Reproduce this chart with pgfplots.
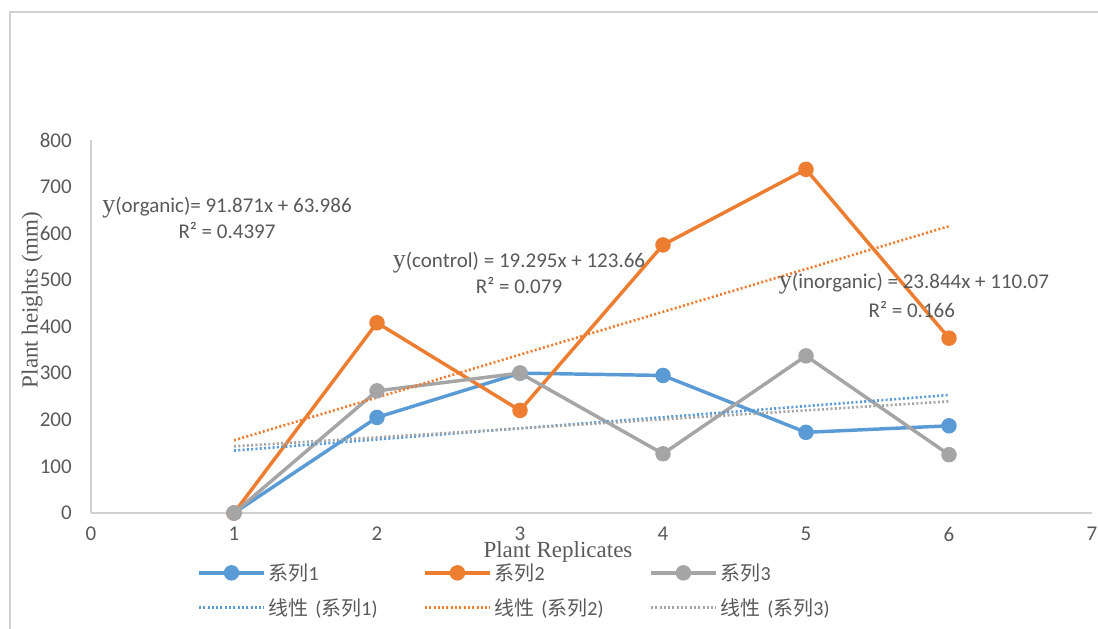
\documentclass[border=0pt]{standalone}
\usepackage{pgfplots}
\pgfplotsset{compat=1.18}
\usepackage{fontspec}
\setmainfont{Carlito}
\newfontfamily\serif{Liberation Serif}
\newfontfamily\cjk{Noto Sans CJK SC}
\definecolor{s1}{HTML}{5B9BD5}
\definecolor{s2}{HTML}{ED7D31}
\definecolor{s3}{HTML}{A5A5A5}
\definecolor{txt}{HTML}{595959}
\definecolor{axc}{HTML}{D0D0D0}
\newlength\px
\setlength\px{0.75pt}
\newcommand\yy{{\serif\fontsize{19.5}{20}\selectfont y}}
\begin{document}
\begin{tikzpicture}
\begin{axis}[
    at={(0,0)}, anchor=south west,
    scale only axis, width=1001\px, height=373\px,
    xmin=0, xmax=7, ymin=0, ymax=800,
    xtick={0,...,7}, ytick={0,100,...,800},
    axis x line*=bottom, axis y line*=left,
    axis line style={-, draw=axc, line width=1.3\px},
    major tick length=0pt,
    tick label style={txt, font=\fontsize{15.75}{19}\selectfont, inner sep=0pt},
    xticklabel style={yshift=-14\px},
    yticklabel style={xshift=-19\px},
    /pgf/number format/assume math mode=true,
    clip=false,
    legend columns=3,
    legend cell align=left,
    legend style={draw=none, fill=none, inner sep=0pt,
        at={(rel axis cs:0.1059,-0.132)}, anchor=north west,
        font=\fontsize{15}{18}\selectfont, text=txt,
        row sep=14\px,
        nodes={text width=148\px, inner xsep=3\px, inner ysep=1\px},
        /tikz/every even column/.append style={column sep=3.5\px}},
    series/.style={line width=2.6\px*1.33, mark=*, mark size=4.5\px*1.33,
        legend image code/.code={\draw[mark repeat=2, mark phase=2]
            plot coordinates {(0,0) (32.5\px,0) (65\px,0)};}},
    trend/.style={line width=2.6\px, dash pattern=on 2\px off 2.3\px,
        legend image code/.code={\draw (0,0) -- (65\px,0);}},
]
\addplot[series, color=s1] coordinates {(1,0) (2,205) (3,300) (4,295) (5,173) (6,187)};
\addplot[series, color=s2] coordinates {(1,0) (2,408) (3,220) (4,575) (5,737) (6,375)};
\addplot[series, color=s3] coordinates {(1,0) (2,262) (3,300) (4,127) (5,337) (6,125)};
\addplot[trend, color=s1] coordinates {(1,133.91) (6,253.13)};
\addplot[trend, color=s2] coordinates {(1,155.86) (6,615.21)};
\addplot[trend, color=s3] coordinates {(1,142.96) (6,239.43)};
\legend{{\cjk 系列}1, {\cjk 系列}2, {\cjk 系列}3,
    {\cjk 线性} ({\cjk 系列}1), {\cjk 线性} ({\cjk 系列}2), {\cjk 线性} ({\cjk 系列}3)}
\begin{scope}[every node/.style={text=txt, font=\fontsize{15.75}{19}\selectfont, inner sep=0pt}]
\node at (axis cs:0.951,656) {\yy(organic)= 91.871x + 63.986};
\node at (axis cs:0.951,607) {R² = 0.4397};
\node at (axis cs:2.993,538) {\yy(control) = 19.295x + 123.66};
\node at (axis cs:2.993,487) {R² = 0.079};
\node at (axis cs:5.755,493) {\yy(inorganic) = 23.844x + 110.07};
\node at (axis cs:5.74,437.5) {R² = 0.166};
\end{scope}
\node[rotate=90, text=txt, font=\serif\fontsize{17.25}{20}\selectfont]
    at (rel axis cs:-0.0589,0.571) {Plant heights (mm)};
\node[text=txt, font=\serif\fontsize{17.25}{20}\selectfont]
    at (rel axis cs:0.4665,-0.1046) {Plant Replicates};
\end{axis}
\draw[axc, line width=1.3\px] (-81\px,-140\px) -- (-81\px,501\px) -- (1030\px,501\px);
\pgfresetboundingbox
\path[use as bounding box] (-91\px,-115\px) rectangle (1007\px,513\px);
\end{tikzpicture}
\end{document}
